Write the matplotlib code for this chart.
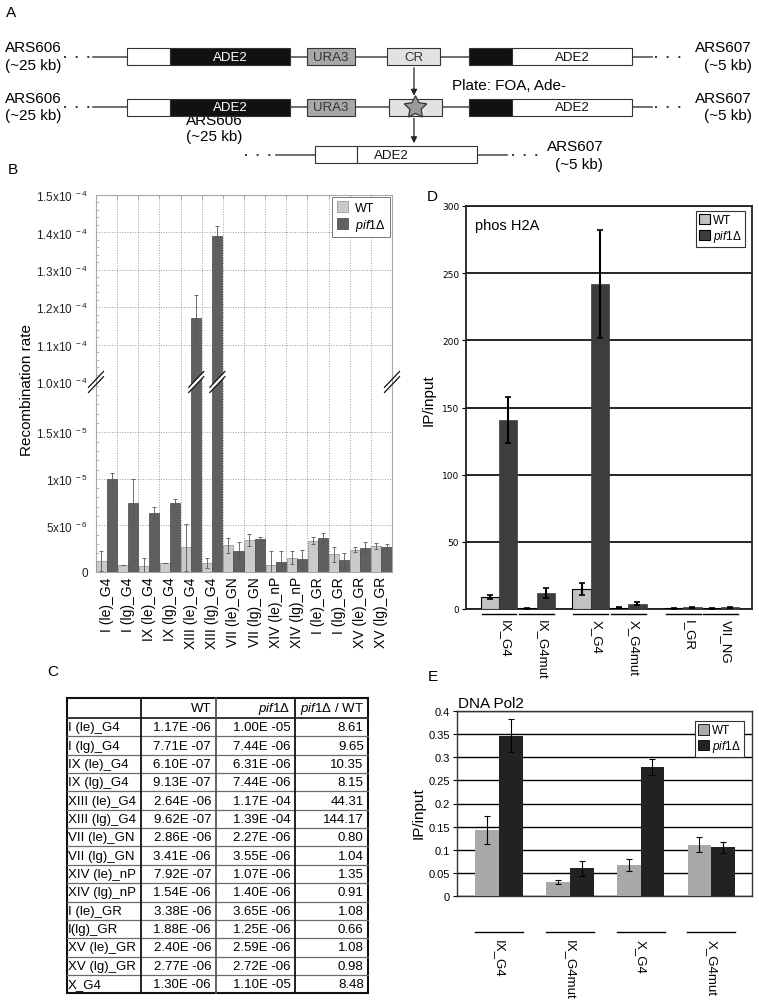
import numpy as np
import matplotlib.pyplot as plt
from matplotlib.patches import Rectangle, Patch, Polygon
from matplotlib.lines import Line2D
from matplotlib.transforms import blended_transform_factory

W, H = 759, 1003

plt.rcParams.update({
    'font.family': ['Liberation Sans', 'DejaVu Sans'],
    'mathtext.fontset': 'custom',
    'mathtext.rm': 'Liberation Sans',
    'mathtext.it': 'Liberation Sans:italic',
})

# ---- panel B / C data (recombination rates) ----
b_labels = ['I (le)_G4', 'I (lg)_G4', 'IX (le)_G4', 'IX (lg)_G4', 'XIII (le)_G4', 'XIII (lg)_G4',
            'VII (le)_GN', 'VII (lg)_GN', 'XIV (le)_nP', 'XIV (lg)_nP', 'I (le)_GR', 'I (lg)_GR',
            'XV (le)_GR', 'XV (lg)_GR']
b_wt = [1.17e-6, 7.71e-7, 6.10e-7, 9.13e-7, 2.64e-6, 9.62e-7, 2.86e-6, 3.41e-6,
        7.92e-7, 1.54e-6, 3.38e-6, 1.88e-6, 2.40e-6, 2.77e-6]
b_pif = [1.00e-5, 7.44e-6, 6.31e-6, 7.44e-6, 1.17e-4, 1.39e-4, 2.27e-6, 3.55e-6,
         1.07e-6, 1.40e-6, 3.65e-6, 1.25e-6, 2.59e-6, 2.72e-6]
b_wt_err = [1.1e-6, 0, 0.9e-6, 0, 2.5e-6, 0.58e-6, 0.8e-6, 0.66e-6,
            1.5e-6, 0.68e-6, 0.34e-6, 0.8e-6, 0.3e-6, 0.3e-6]
b_pif_err = [0.6e-6, 2.5e-6, 0.65e-6, 0.4e-6, 6.2e-6, 2.6e-6, 0.9e-6, 0.25e-6,
             1.2e-6, 0.96e-6, 0.56e-6, 0.8e-6, 0.6e-6, 0.3e-6]

c_rows = ['I (le)_G4', 'I (lg)_G4', 'IX (le)_G4', 'IX (lg)_G4', 'XIII (le)_G4', 'XIII (lg)_G4',
          'VII (le)_GN', 'VII (lg)_GN', 'XIV (le)_nP', 'XIV (lg)_nP', 'I (le)_GR', 'I(lg)_GR',
          'XV (le)_GR', 'XV (lg)_GR', 'X_G4']
c_wt = b_wt + [1.30e-6]
c_pif = b_pif + [1.10e-5]
c_ratio = [8.61, 9.65, 10.35, 8.15, 44.31, 144.17, 0.80, 1.04, 1.35, 0.91, 1.08, 0.66, 1.08, 0.98, 8.48]

# ---- panel D (phos H2A ChIP) ----
d_labels = ['IX_G4', 'IX_G4mut', 'X_G4', 'X_G4mut', 'I_GR', 'VII_NG']
d_wt = [9, 0.5, 15, 0.8, 0.5, 0.5]
d_wt_err = [1.7, 0.3, 4.7, 0.4, 0.3, 0.3]
d_pif = [140.5, 12, 242, 4, 1.2, 1.2]
d_pif_err = [17, 3.8, 40, 1.0, 0.5, 0.6]

# ---- panel E (DNA Pol2 ChIP) ----
e_labels = ['IX_G4', 'IX_G4mut', 'X_G4', 'X_G4mut']
e_wt = [0.143, 0.031, 0.067, 0.111]
e_wt_err = [0.030, 0.004, 0.012, 0.016]
e_pif = [0.347, 0.060, 0.279, 0.105]
e_pif_err = [0.035, 0.016, 0.017, 0.012]

PIF = r'$\it{pif1Δ}$'


def box(x0, y0, x1, y1):
    # pixel box (top-left origin) -> figure fraction rect
    return [x0 / W, 1 - y1 / H, (x1 - x0) / W, (y1 - y0) / H]


fig = plt.figure(figsize=(W / 100, H / 100), dpi=100)

# overlay in pixel coordinates for schematic, table and panel letters
ov = fig.add_axes([0, 0, 1, 1])
ov.set_xlim(0, W)
ov.set_ylim(H, 0)
ov.axis('off')
ov.patch.set_alpha(0)

for letter, lx, ly in [('A', 6, 13), ('B', 8, 170), ('C', 47, 672), ('D', 427, 197), ('E', 428, 677)]:
    ov.text(lx, ly, letter, fontsize=11, ha='left', va='center')

# ---------------- panel A schematic ----------------
LINE = '#555555'


def hline(x0, x1, y):
    ov.plot([x0, x1], [y, y], color=LINE, lw=1.2, zorder=2)


def dots(x0, x1, y):
    ov.plot([x0, x1], [y, y], color='#333333', lw=1.4, ls=(0, (1, 5)), zorder=2)


def rect(x0, x1, y, fc, h=17):
    ov.add_patch(Rectangle((x0, y - h / 2), x1 - x0, h, fc=fc, ec='#333333', lw=0.8, zorder=4))


for y, cr_left in [(57.5, 387), (108, 389)]:
    dots(64, 93, y)
    hline(93, 652, y)
    dots(655, 687, y)
    rect(127, 170, y, 'white')
    rect(170, 290, y, '#111111')
    ov.text(230, y, 'ADE2', color='white', fontsize=9.5, ha='center', va='center', zorder=5)
    rect(307, 355, y, '#a8a8a8')
    ov.text(331, y, 'URA3', color='#333333', fontsize=9.5, ha='center', va='center', zorder=5)
    rect(cr_left, cr_left + 53, y, '#e2e2e2')
    rect(469, 512, y, '#111111')
    rect(512, 632, y, 'white')
    ov.text(572, y, 'ADE2', color='#111111', fontsize=9.5, ha='center', va='center', zorder=5)
    ov.text(5, y - 9.5, 'ARS606', fontsize=11, ha='left', va='center')
    ov.text(5, y + 8, '(~25 kb)', fontsize=11, ha='left', va='center')
    ov.text(752, y - 9.5, 'ARS607', fontsize=11, ha='right', va='center')
    ov.text(752, y + 8, '(~5 kb)', fontsize=11, ha='right', va='center')

ov.text(413.5, 57.5, 'CR', color='#333333', fontsize=9.5, ha='center', va='center', zorder=5)
ov.plot([415], [108], marker=(5, 1, 0), ms=17, mfc='#9a9a9a', mec='#333333', mew=0.9, zorder=6)
ov.text(452, 86, 'Plate: FOA, Ade-', fontsize=11, ha='left', va='center')
for y0, y1 in [(66, 99.5), (116.5, 147)]:
    ov.annotate('', xy=(414, y1), xytext=(414, y0),
                arrowprops=dict(arrowstyle='-|>', color='#222222', lw=0.9, mutation_scale=9), zorder=6)

# third row (overlapping ARS606 text drawn under row-2 boxes)
ov.text(214, 120.5, 'ARS606', fontsize=11, ha='center', va='center', zorder=1)
ov.text(214, 137, '(~25 kb)', fontsize=11, ha='center', va='center', zorder=1)
y3 = 155.5
dots(245, 276, y3)
hline(276, 507, y3)
dots(512, 542, y3)
rect(315, 357, y3, 'white')
rect(357, 477, y3, 'white')
ov.text(391, y3, 'ADE2', color='#111111', fontsize=9.5, ha='center', va='center', zorder=5)
ov.text(547, 146.5, 'ARS607', fontsize=11, ha='left', va='center')
ov.text(603, 165, '(~5 kb)', fontsize=11, ha='right', va='center')

# ---------------- panel B broken-axis bar chart ----------------
axu = fig.add_axes(box(96, 196, 392, 383))
axl = fig.add_axes(box(96, 383, 392, 573))
x = np.arange(len(b_labels))
err_kw = dict(ecolor='#555555', elinewidth=0.6, capsize=1.5, capthick=0.6)
for ax in (axu, axl):
    ax.bar(x + 0.26, b_wt, 0.48, color='#cacaca', edgecolor='#8c8c8c', lw=0.5,
           yerr=b_wt_err, error_kw=err_kw, zorder=3)
    ax.bar(x + 0.74, b_pif, 0.48, color='#606060', edgecolor='#454545', lw=0.5,
           yerr=b_pif_err, error_kw=err_kw, zorder=3)
    ax.set_xlim(0, len(b_labels))
    ax.set_xticks(np.arange(1, len(b_labels)), minor=True)
    ax.grid(which='minor', axis='x', color='#9a9a9a', ls=':', lw=0.7)
    ax.grid(which='major', axis='y', color='#9a9a9a', ls=':', lw=0.7)
    for s in ax.spines.values():
        s.set_color('#a8a8a8')
        s.set_linewidth(0.8)
    ax.tick_params(axis='y', which='major', length=0, pad=6, labelsize=8.5, colors='#222222')
    ax.tick_params(axis='y', which='minor', direction='in', length=2, color='#b0b0b0')
    ax.tick_params(axis='x', which='both', length=0)

axu.set_ylim(1.0e-4, 1.5e-4)
u_ticks = [1.0e-4, 1.1e-4, 1.2e-4, 1.3e-4, 1.4e-4, 1.5e-4]
axu.set_yticks(u_ticks)
axu.set_yticklabels([r'%.1fx10$^{\ -4}$' % (t * 1e4) for t in u_ticks])
axu.set_yticks(np.arange(1.0e-4, 1.5e-4, 0.02e-4), minor=True)
axu.set_xticks([])
axu.tick_params(axis='x', which='minor', top=True, bottom=False, direction='in', length=2.5,
                color='#9a9a9a')
axu.spines['bottom'].set_visible(False)

axl.set_ylim(0, 2.04e-5)
axl.set_yticks([0, 5e-6, 1e-5, 1.5e-5])
axl.set_yticklabels(['0', r'5x10$^{\ -6}$', r'1x10$^{\ -5}$', r'1.5x10$^{\ -5}$'])
axl.set_yticks(np.arange(0, 2.04e-5, 1e-6), minor=True)
axl.spines['top'].set_visible(False)
axl.set_xticks(x + 0.5)
axl.set_xticklabels(b_labels, rotation=90, fontsize=10)
axl.tick_params(axis='x', pad=3)

fig.text(27 / W, 1 - 390 / H, 'Recombination rate', rotation=90, ha='center', va='center', fontsize=11)

leg = axu.legend(handles=[Patch(fc='#cacaca', ec='#8c8c8c', lw=0.5), Patch(fc='#606060', ec='#454545', lw=0.5)],
                 labels=['WT', PIF], loc='upper right',
                 bbox_to_anchor=(1.0, 1.0), borderaxespad=0.15, fontsize=9, fancybox=False,
                 edgecolor='#777777', framealpha=1, handlelength=0.9, handleheight=0.9,
                 handletextpad=0.6, labelspacing=0.25, borderpad=0.35)
leg.get_frame().set_linewidth(0.7)


def to_px(ax, xy, axes_frac_x=False):
    tr = blended_transform_factory(ax.transAxes, ax.transData) if axes_frac_x else ax.transData
    dx, dy = tr.transform(xy)
    return dx, H - dy


def break_mark(cx, cy, half=7.5, gap=2.6, white=True):
    pts = []
    for o in (-gap, gap):
        pts.append([(cx - half, cy + half * 1.05 + o), (cx + half, cy - half * 1.05 + o)])
    if white:
        poly = [pts[0][0], pts[0][1], pts[1][1], pts[1][0]]
        fig.add_artist(Polygon([(px / W, 1 - py / H) for px, py in poly], closed=True,
                               fc='white', ec='none', transform=fig.transFigure, zorder=10))
    for seg in pts:
        fig.add_artist(Line2D([seg[0][0] / W, seg[1][0] / W], [1 - seg[0][1] / H, 1 - seg[1][1] / H],
                              color='#111111', lw=0.9, transform=fig.transFigure, zorder=11))


fig.canvas.draw()
for frac in (0.0, 1.0):
    bx, by = to_px(axu, (frac, 1.0e-4), axes_frac_x=True)
    break_mark(bx, by, white=False)
for i in (4, 5):
    bx, by = to_px(axu, (i + 0.74, 1.0e-4))
    break_mark(bx, by, white=True)

# ---------------- panel C table ----------------
cols = [66.7, 141.3, 216, 295.3, 367.7]
t_top, t_head, t_bot = 699.3, 719.0, 994.3
row_h = (t_bot - t_head) / len(c_rows)
fs_t = 9.5


def efmt(v):
    return ('%.2E' % v).replace('E-', 'E -')


yh = (t_top + t_head) / 2
ov.text(cols[2] - 5, yh, 'WT', fontsize=fs_t, ha='right', va='center')
ov.text(cols[3] - 5, yh, PIF, fontsize=fs_t, ha='right', va='center')
ov.text(cols[4] - 4, yh, PIF + ' / WT', fontsize=fs_t, ha='right', va='center')
for r, name in enumerate(c_rows):
    yc = t_head + (r + 0.5) * row_h
    ov.text(cols[0] + 1.5, yc, name, fontsize=fs_t, ha='left', va='center')
    ov.text(cols[2] - 5, yc, efmt(c_wt[r]), fontsize=fs_t, ha='right', va='center')
    ov.text(cols[3] - 5, yc, efmt(c_pif[r]), fontsize=fs_t, ha='right', va='center')
    ov.text(cols[4] - 4, yc, '%.2f' % c_ratio[r], fontsize=fs_t, ha='right', va='center')
    if r > 0:
        yl = t_head + r * row_h
        ov.plot([cols[0], cols[4]], [yl, yl], color='#6a6a6a', lw=0.9)
ov.plot([cols[0], cols[4]], [t_head, t_head], color='#333333', lw=1.4)
for j, xc in enumerate(cols[1:-1]):
    ov.plot([xc, xc], [t_top, t_bot], color='#555555' if j == 1 else '#111111', lw=1.3)
ov.add_patch(Rectangle((cols[0], t_top), cols[4] - cols[0], t_bot - t_top, fc='none', ec='#111111', lw=1.5))

# ---------------- panel D ----------------
axd = fig.add_axes(box(466, 207, 752, 610))
d_pos = np.array([1.8, 3.85, 6.8, 8.85, 11.85, 13.9])
axd.bar(d_pos - 0.5, d_wt, 1.0, color='#c2c2c2', edgecolor='black', lw=0.8, yerr=d_wt_err,
        error_kw=dict(ecolor='black', elinewidth=1.5, capsize=2, capthick=1.2), zorder=3)
axd.bar(d_pos + 0.5, d_pif, 1.0, color='#3d3d3d', edgecolor='#3d3d3d', lw=0.5, yerr=d_pif_err,
        error_kw=dict(ecolor='black', elinewidth=1.5, capsize=2, capthick=1.2), zorder=3)
axd.set_xlim(0, 15.6)
axd.set_ylim(0, 300)
axd.set_yticks(np.arange(0, 301, 50))
axd.set_yticklabels([str(v) for v in range(0, 301, 50)], fontfamily='DejaVu Sans')
axd.grid(axis='y', color='black', lw=1.2)
axd.set_axisbelow(True)
for s in axd.spines.values():
    s.set_color('#222222')
    s.set_linewidth(1.3)
axd.tick_params(axis='y', length=3, width=0.8, labelsize=6.5, pad=2)
axd.set_xticks(d_pos + 0.3)
axd.set_xticklabels(d_labels, rotation=270, fontsize=9.5)
axd.tick_params(axis='x', length=0, pad=7)
trd = blended_transform_factory(axd.transData, axd.transAxes)
for p in d_pos:
    axd.plot([p - 0.95, p + 0.95], [-0.0124, -0.0124], color='black', lw=1, transform=trd, clip_on=False)
axd.text(0.031, 0.954, 'phos H2A', transform=axd.transAxes, fontsize=10.5, ha='left', va='center')
fig.text(429 / W, 1 - 400 / H, 'IP/input', rotation=90, ha='center', va='center', fontsize=11)
leg = axd.legend(handles=[Patch(fc='#c2c2c2', ec='black', lw=0.8), Patch(fc='#3d3d3d', ec='black', lw=0.8)],
                 labels=['WT', PIF], loc='upper right', bbox_to_anchor=(0.976, 0.988), borderaxespad=0,
                 fontsize=8.5, fancybox=False, edgecolor='#333333', framealpha=1, handlelength=0.9,
                 handleheight=1.0, handletextpad=0.3, labelspacing=0.15, borderpad=0.25)
leg.get_frame().set_linewidth(0.8)

# ---------------- panel E ----------------
axe = fig.add_axes(box(456.7, 712, 752, 897))
xe = np.arange(len(e_labels))
ekw = dict(ecolor='black', elinewidth=0.8, capsize=2.5, capthick=0.8)
axe.bar(xe - 0.1675, e_wt, 0.335, color='#a9a9a9', yerr=e_wt_err, error_kw=ekw, zorder=3)
axe.bar(xe + 0.1675, e_pif, 0.335, color='#222222', yerr=e_pif_err, error_kw=ekw, zorder=3)
axe.set_xlim(-0.6, 3.576)
axe.set_ylim(0, 0.4)
e_ticks = [0, 0.05, 0.1, 0.15, 0.2, 0.25, 0.3, 0.35, 0.4]
axe.set_yticks(e_ticks)
axe.set_yticklabels(['0', '0.05', '0.1', '0.15', '0.2', '0.25', '0.3', '0.35', '0.4'])
axe.grid(axis='y', color='black', lw=1.0)
axe.set_axisbelow(True)
for s in axe.spines.values():
    s.set_color('#333333')
    s.set_linewidth(1.0)
axe.tick_params(axis='y', length=3, width=0.8, labelsize=8, pad=2)
axe.set_xticks(xe)
axe.set_xticklabels(e_labels, rotation=270, fontsize=9.5)
axe.tick_params(axis='x', length=0, pad=31)
tre = blended_transform_factory(axe.transData, axe.transAxes)
for p in xe:
    axe.plot([p - 0.34, p + 0.34], [-0.195, -0.195], color='black', lw=1, transform=tre, clip_on=False)
axe.text(0.004, 1.043, 'DNA Pol2', transform=axe.transAxes, fontsize=11, ha='left', va='center')
fig.text(419 / W, 1 - 813 / H, 'IP/input', rotation=90, ha='center', va='center', fontsize=11)
leg = axe.legend(handles=[Patch(fc='#a9a9a9', ec='black', lw=0.6), Patch(fc='#222222', ec='black', lw=0.6)],
                 labels=['WT', PIF], loc='upper right', bbox_to_anchor=(0.973, 0.946), borderaxespad=0,
                 fontsize=8.5, fancybox=False, edgecolor='#333333', framealpha=1, handlelength=0.9,
                 handleheight=1.0, handletextpad=0.3, labelspacing=0.15, borderpad=0.25)
leg.get_frame().set_linewidth(0.8)

fig.savefig('out.png', dpi=100)
